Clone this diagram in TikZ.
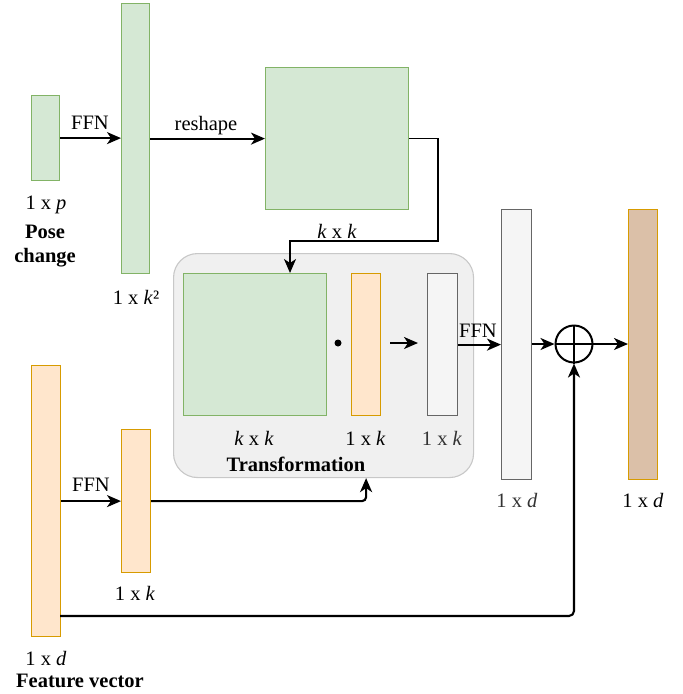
\documentclass[tikz,border=0pt]{standalone}
\usepackage{fontspec}
\setmainfont{Liberation Serif}
\usetikzlibrary{arrows.meta,calc}
\definecolor{gfill}{HTML}{D5E8D4}
\definecolor{gline}{HTML}{82B366}
\definecolor{ofill}{HTML}{FFE6CC}
\definecolor{oline}{HTML}{D79B00}
\definecolor{wfill}{HTML}{F5F5F5}
\definecolor{wline}{HTML}{666666}
\definecolor{grpfill}{HTML}{F0F0F0}
\definecolor{grpline}{HTML}{C8C8C8}
\definecolor{bfill}{HTML}{DBC0A8}
\definecolor{dtext}{HTML}{333333}
\tikzset{
  base/.style={draw, line width=1.2pt, inner sep=0pt, anchor=north west},
  gbox/.style={base, fill=gfill, draw=gline},
  obox/.style={base, fill=ofill, draw=oline},
  wbox/.style={base, fill=wfill, draw=wline},
  bbox/.style={base, fill=bfill, draw=oline},
  arr/.style={line width=2.1pt, -{Stealth[length=14pt,width=12pt,inset=4pt]}},
  lbl/.style={anchor=base, inner sep=0pt, font=\fontsize{20.5}{24}\selectfont},
  blbl/.style={lbl, font=\fontsize{20.5}{24}\selectfont\bfseries},
}
\begin{document}
\begin{tikzpicture}[x=1pt,y=-1pt]
\useasboundingbox (0,0) rectangle (683,694);
% group
\node[draw=grpline, fill=grpfill, line width=1.1pt, rounded corners=24pt, anchor=north west,
      minimum width=300pt, minimum height=224pt, inner sep=0pt] (grp) at (173,253) {};
% boxes
\node[gbox, minimum width=28pt, minimum height=85pt] (pose) at (31,95) {};
\node[gbox, minimum width=28pt, minimum height=270pt] (k2) at (121,3) {};
\node[gbox, minimum width=143pt, minimum height=142pt] (sq) at (265,67) {};
\node[gbox, minimum width=143pt, minimum height=142pt] (isq) at (183,273) {};
\node[obox, minimum width=29pt, minimum height=142pt] (oin) at (351,273) {};
\node[wbox, minimum width=30pt, minimum height=142pt] (win) at (427,273) {};
\node[wbox, minimum width=30pt, minimum height=270pt] (dbox) at (501,209) {};
\node[bbox, minimum width=29pt, minimum height=270pt] (brown) at (628,209) {};
\node[obox, minimum width=29pt, minimum height=271pt] (fv) at (31,365) {};
\node[obox, minimum width=29pt, minimum height=143pt] (so) at (121,429) {};
\node[draw, line width=2pt, circle, minimum size=37pt, inner sep=0pt] (plus) at (574,344) {};
\draw[line width=2pt] (plus.north) -- (plus.south) (plus.west) -- (plus.east);
% dot and inner arrow
\fill (338,343) circle (3.5pt);
\coordinate (a1) at (390,343);
\coordinate (a2) at (418,343);
\draw[arr] (a1) -- (a2);
% connectors
\draw[arr] (pose.east) -- (pose.east -| k2.west);
\draw[arr] (k2.east |- sq.west) -- (sq.west);
\coordinate (turn) at (290,241);
\draw[arr, line width=1.7pt] (sq.east) -- ++(29,0) |- (turn) -- (turn |- isq.north);
\draw[arr] (win.east) -- (win.east -| dbox.west);
\draw[arr] (dbox.east |- plus.west) -- (plus.west);
\draw[arr] (plus.east) -- (plus.east -| brown.west);
\draw[arr] (so.west -| fv.east) -- (so.west);
\draw[arr, rounded corners=4pt] (so.east) -| (grp.south -| oin.center);
\coordinate (fvout) at (60,616);
\draw[arr, rounded corners=5pt] (fvout) -| (plus.south);
% labels
\node[lbl] at (90,129) {FFN};
\node[lbl] at (206,130) {reshape};
\node[lbl] at (46,209) {1 x \textit{p}};
\node[blbl] at (45,238) {Pose};
\node[blbl] at (45,262) {change};
\node[lbl] at (136,304) {1 x \textit{k}²};
\node[lbl] at (337,238) {\textit{k} x \textit{k}};
\node[lbl] at (254,445) {\textit{k} x \textit{k}};
\node[lbl] at (365.5,445) {1 x \textit{k}};
\node[lbl, text=dtext] at (442,445) {1 x \textit{k}};
\node[blbl] at (296,471) {Transformation};
\node[lbl] at (478,337) {FFN};
\node[lbl, text=dtext] at (517,507) {1 x \textit{d}};
\node[lbl] at (643,507) {1 x \textit{d}};
\node[lbl] at (91,491) {FFN};
\node[lbl] at (135,600) {1 x \textit{k}};
\node[lbl] at (46,665) {1 x \textit{d}};
\node[blbl] at (80,687) {Feature vector};
\end{tikzpicture}
\end{document}
